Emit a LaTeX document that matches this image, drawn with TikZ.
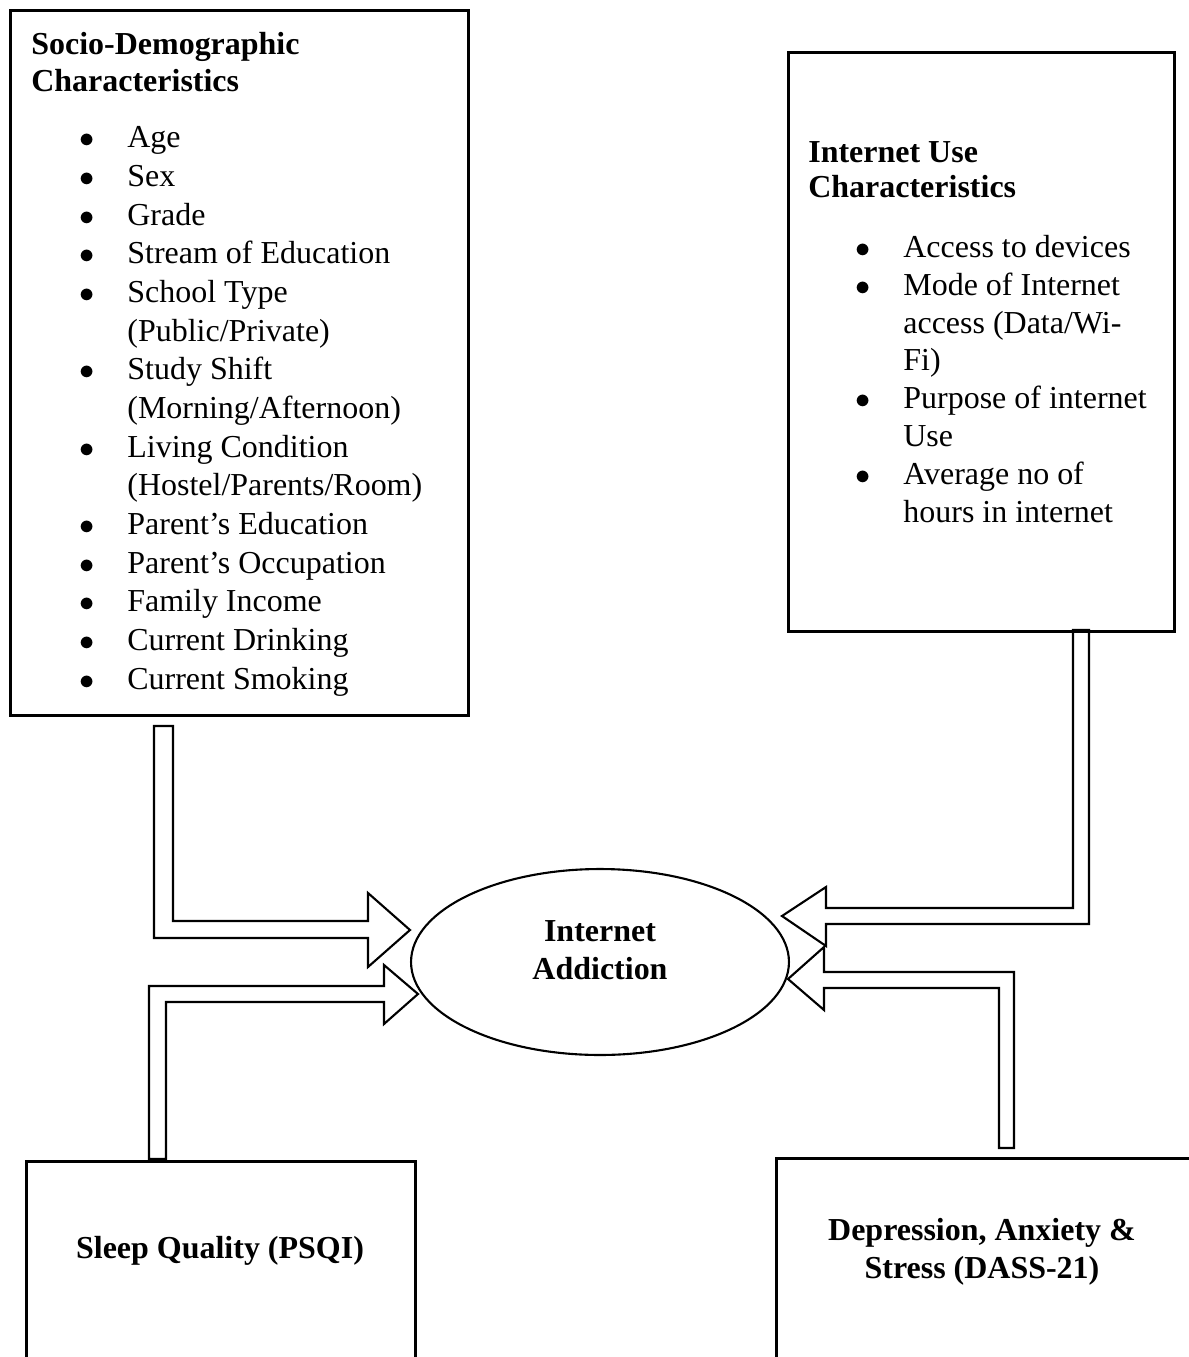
\documentclass[tikz,border=0pt]{standalone}
\usepackage{fontspec}
\setmainfont{Liberation Serif}
\usetikzlibrary{shapes.geometric}

\newcommand{\itm}[1]{\makebox[26.2pt][l]{\hspace*{-1.2pt}$\bullet$}#1}
\newcommand{\cont}[1]{\hspace*{26.2pt}#1}

\begin{document}
\begin{tikzpicture}[x=0.02cm,y=-0.02cm,
  box/.style={draw,line width=1.6pt,anchor=north west,inner sep=0pt},
  bigarrow/.style={draw,line width=1.2pt,line join=miter},
  head/.style={font=\bfseries\fontsize{18.2}{20.5}\selectfont,align=left,anchor=base west,inner sep=0pt},
  items/.style={font=\fontsize{18.2}{22}\selectfont,align=left,anchor=base west,inner sep=0pt}]
\clip (0,0) rectangle (1189,1357);

% boxes
\node[box,minimum width=9.16cm,minimum height=14.1cm] (socio) at (9,9) {};
\node[box,minimum width=7.72cm,minimum height=11.58cm] (netuse) at (787,51) {};
\node[box,minimum width=7.78cm,minimum height=6cm] (sleep) at (25,1160) {};
\node[box,minimum width=9cm,minimum height=6cm] (dass) at (775,1157) {};
\node[draw,ellipse,line width=1.2pt,minimum width=7.56cm,minimum height=3.72cm,inner sep=0pt] (addict) at (600,962) {};

% texts (anchored at the baseline of their last line)
\node[head] (sociohead) at (31,91) {Socio-Demographic\\Characteristics};
\node[items] (sociolist) at (81,689) {\itm{Age}\\ \itm{Sex}\\ \itm{Grade}\\ \itm{Stream of Education}\\
  \itm{School Type}\\ \cont{(Public/Private)}\\ \itm{Study Shift}\\ \cont{(Morning/Afternoon)}\\
  \itm{Living Condition}\\ \cont{(Hostel/Parents/Room)}\\ \itm{Parent’s Education}\\
  \itm{Parent’s Occupation}\\ \itm{Family Income}\\ \itm{Current Drinking}\\ \itm{Current Smoking}};
\node[head,font=\bfseries\fontsize{18.2}{19.9}\selectfont] (netusehead) at (808,197) {Internet Use\\Characteristics};
\node[items,font=\fontsize{18.2}{21.5}\selectfont] (netuselist) at (857,522) {\itm{Access to devices}\\
  \itm{Mode of Internet}\\ \cont{access (Data/Wi-}\\ \cont{Fi)}\\ \itm{Purpose of internet}\\ \cont{Use}\\
  \itm{Average no of}\\ \cont{hours in internet}};
\node[head,align=center,anchor=base,font=\bfseries\fontsize{18.2}{21.6}\selectfont] (addicttext) at (600,979) {Internet\\Addiction};
\node[head,anchor=base] (sleeptext) at (220,1258) {Sleep Quality (PSQI)};
\node[head,align=center,anchor=base,font=\bfseries\fontsize{18.2}{21.6}\selectfont] (dasstext) at (982,1278) {Depression, Anxiety \&\\Stress (DASS-21)};

% block arrows
\draw[bigarrow] (154,726) -- (173,726) -- (173,921) -- (368,921) -- (368,893) -- (410,930)
  -- (368,967) -- (368,938) -- (154,938) -- cycle;
\draw[bigarrow] (1073,630) -- (1089,630) -- (1089,924) -- (826,924) -- (826,946) -- (782,916)
  -- (826,887) -- (826,908) -- (1073,908) -- cycle;
\draw[bigarrow] (999,1148) -- (1014,1148) -- (1014,972) -- (824,972) -- (824,947) -- (788,979)
  -- (824,1010) -- (824,988) -- (999,988) -- cycle;
\draw[bigarrow] (149,1159) -- (149,986) -- (384,986) -- (384,965) -- (418,994) -- (384,1024)
  -- (384,1002) -- (166,1002) -- (166,1159) -- cycle;
\end{tikzpicture}
\end{document}
